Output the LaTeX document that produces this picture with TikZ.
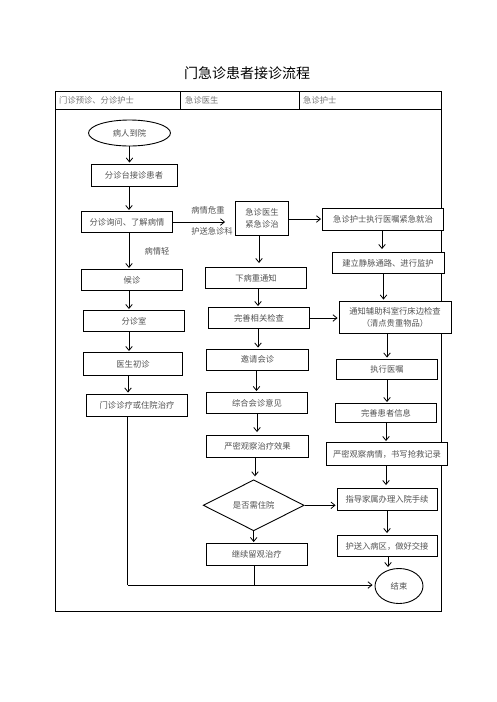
\documentclass[tikz,border=0pt]{standalone}
\usepackage{fontspec}
\setmainfont{Noto Sans CJK SC}
\usetikzlibrary{shapes.geometric,arrows.meta}
\tikzset{
  box/.style={draw, fill=white, line width=0.9pt, inner sep=1pt, align=center,
    font=\fontsize{8.3}{12}\selectfont, text=black!68},
  oval/.style={box, ellipse},
  dia/.style={box, diamond, aspect=2},
  arr/.style={-{Straight Barb[length=4pt,width=6.5pt]}, line width=0.8pt, shorten >=1pt},
  ln/.style={line width=0.8pt},
  lbl/.style={font=\fontsize{8.3}{10}\selectfont, text=black!68, inner sep=0pt},
  hdr/.style={font=\fontsize{8.3}{10}\selectfont, text=black!55, anchor=west, inner sep=0pt},
  frame/.style={line width=0.9pt}
}
\begin{document}
\begin{tikzpicture}[x=1pt,y=-1pt]
\useasboundingbox (0,0) rectangle (496,702);
% title
\node[font=\fontsize{14}{16}\selectfont, inner sep=0pt] (title) at (247,73) {门急诊患者接诊流程};
% table
\draw[frame] (55.7,91.7) rectangle (441.7,611);
\draw[frame] (55.7,109.3) -- (441.7,109.3);
\draw[frame] (180,91.7) -- (180,109.3);
\draw[frame] (299.3,91.7) -- (299.3,109.3);
\node[hdr] (h1) at (59,100) {门诊预诊、分诊护士};
\node[hdr] (h2) at (185,100) {急诊医生};
\node[hdr] (h3) at (303,100) {急诊护士};
% left column
\node[oval, minimum width=82pt, minimum height=26pt] (arrive) at (129.5,133) {病人到院};
\node[box, minimum width=86pt, minimum height=22pt] (n1) at (134,175) {分诊台接诊患者};
\node[box, minimum width=91pt, minimum height=21pt] (n2) at (127,222) {分诊询问、了解病情};
\node[box, minimum width=101pt, minimum height=21pt] (l1) at (132,280) {候诊};
\node[box, minimum width=101pt, minimum height=21pt] (l2) at (134,321) {分诊室};
\node[box, minimum width=99pt, minimum height=23pt] (l3) at (133,364) {医生初诊};
\node[box, minimum width=101pt, minimum height=22pt] (l4) at (137,405) {门诊诊疗或住院治疗};
% middle column
\node[box, minimum width=53pt, minimum height=34pt] (d1) at (262,218) {急诊医生\\紧急诊治};
\node[box, minimum width=101pt, minimum height=21pt] (d2) at (256,278) {下病重通知};
\node[box, minimum width=101pt, minimum height=21pt] (d3) at (259,318) {完善相关检查};
\node[box, minimum width=102pt, minimum height=21pt] (d4) at (257.5,359.5) {邀请会诊};
\node[box, minimum width=101pt, minimum height=21pt] (d5) at (257,403) {综合会诊意见};
\node[box, minimum width=102pt, minimum height=22pt] (d6) at (257.5,446.5) {严密观察治疗效果};
\node[dia, minimum width=101pt, minimum height=51pt, inner sep=0pt] (q) at (253.7,505.3) {是否需住院};
\node[box, minimum width=101pt, minimum height=22pt] (d7) at (256.7,554.5) {继续留观治疗};
% right column
\node[box, minimum width=121pt, minimum height=22pt] (r1) at (383,219) {急诊护士执行医嘱紧急就治};
\node[box, minimum width=112pt, minimum height=21pt] (r2) at (388,263) {建立静脉通路、进行监护};
\node[box, minimum width=112pt, minimum height=32pt] (r3) at (395,317) {通知辅助科室行床边检查\\（清点贵重物品）};
\node[box, minimum width=101pt, minimum height=20pt] (r4) at (387,369) {执行医嘱};
\node[box, minimum width=101pt, minimum height=19pt] (r5) at (386,413) {完善患者信息};
\node[box, minimum width=121pt, minimum height=23pt] (r6) at (387,454) {严密观察病情，书写抢救记录};
\node[box, minimum width=100pt, minimum height=22pt] (r7) at (387,499.5) {指导家属办理入院手续};
\node[box, minimum width=100pt, minimum height=21pt] (r8) at (387,546) {护送入病区，做好交接};
\node[oval, minimum width=48pt, minimum height=35pt, inner sep=0pt] (end) at (399,586) {结束};
% labels
\node[lbl] (t1) at (208,210) {病情危重};
\node[lbl] (t2) at (212,231.5) {护送急诊科};
\node[lbl] (t3) at (157,251) {病情轻};
% connectors left
\draw[arr] (arrive.south) -- (arrive.south |- n1.north);
\draw[arr] (n1.south -| n2.north) ++(2,0) coordinate (c1) -- (c1 |- n2.north);
\draw[arr] (n2.south) ++(2,0) coordinate (c2) -- (c2 |- l1.north);
\draw[arr] (l1.south) ++(-3,0) coordinate (c3) -- (c3 |- l2.north);
\draw[arr] (l2.south) ++(-5,0) coordinate (c4) -- (c4 |- l3.north);
\draw[arr] (l3.south) ++(-5,0) coordinate (c5) -- (c5 |- l4.north);
\coordinate (j1) at (127.7,585);
\draw[ln] (l4.south -| j1) -- (j1);
\draw[arr, shorten >=2pt] (j1) -- (j1 -| end.west);
\coordinate (j2) at (254,585);
\draw[ln] (d7.south -| j2) -- (j2);
% horizontal
\draw[arr, shorten >=10pt] (n2.east) -- (n2.east -| d1.west);
\draw[arr] (d1.east |- r1.west) -- (r1.west);
\draw[arr] (d3.east) -- (d3.east -| r3.west);
\draw[arr] (q.east) -- (q.east -| r7.west);
% middle column
\draw[arr, shorten >=4pt] (d1.south) ++(-3,0) coordinate (m1) -- (m1 |- d2.north);
\draw[arr] (d2.south) ++(2,0) coordinate (m2) -- (m2 |- d3.north);
\draw[arr] (d3.south) ++(-1,0) coordinate (m3) -- (m3 |- d4.north);
\draw[arr] (d4.south) ++(-1,0) coordinate (m4) -- (m4 |- d5.north);
\draw[arr, shorten >=3pt] (d5.south) coordinate (m5) -- (m5 |- d6.north);
\draw[arr, shorten >=3pt] (d6.south) ++(-2.5,0) coordinate (m6) -- (m6 |- q.north);
\draw[arr] (q.south) -- (q.south |- d7.north);
% right column
\draw[arr, shorten >=3pt] (r1.south) ++(-1,0) coordinate (k1) -- (k1 |- r2.north);
\draw[arr] (r2.south) ++(-4.5,0) coordinate (k2) -- (k2 |- r3.north);
\draw[arr] (r3.south) ++(-8,0) coordinate (k3) -- (k3 |- r4.north);
\draw[arr] (r4.south) coordinate (k4) -- (k4 |- r5.north);
\draw[arr] (r5.south) coordinate (k5) -- (k5 |- r6.north);
\draw[arr, shorten >=3pt] (r6.south) ++(-1,0) coordinate (k6) -- (k6 |- r7.north);
\draw[arr, shorten >=2pt] (r7.south) coordinate (k7) -- (k7 |- r8.north);
\draw[arr] (r8.south) ++(1,0) coordinate (k8) -- (k8 |- end.north);
\end{tikzpicture}
\end{document}
